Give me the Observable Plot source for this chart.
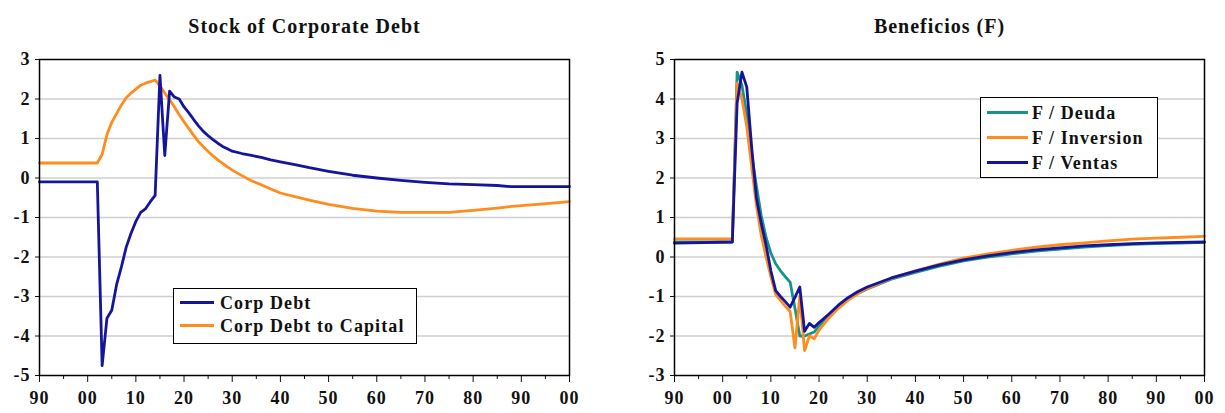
<!DOCTYPE html>
<html>
<head>
<meta charset="utf-8">
<script src="https://cdn.jsdelivr.net/npm/d3@7"></script>
<script src="https://cdn.jsdelivr.net/npm/@observablehq/plot@0.6"></script>
<style>
  body { margin: 0; background: #fff; }
  #wrap { position: relative; width: 1225px; height: 413px; display: flex; }
  .legend { position: absolute; background: #fff; border: 1.5px solid #000; box-sizing: border-box;
            font: bold 18px "Liberation Serif", "Times New Roman", serif; letter-spacing: 1.1px; color: #111; }
  .legend .sw { position: absolute; height: 0; border-top: 3.5px solid; }
  .legend .lbl { position: absolute; white-space: nowrap; }
  svg text { letter-spacing: 1px; }
</style>
</head>
<body>
<div id="wrap"></div>
<script>
// ---------------- Data ----------------
const titles = ["Stock of Corporate Debt", "Beneficios (F)"];

const leftYears = [1990, 2002, 2003, 2004, 2005, 2006, 2007, 2008, 2009, 2010, 2011, 2012, 2013, 2014, 2015, 2016,
  2017, 2018, 2019, 2020, 2021, 2022, 2023, 2024, 2025, 2026, 2027, 2028, 2029, 2030, 2032, 2034, 2036, 2038, 2040,
  2043, 2046, 2050, 2055, 2060, 2065, 2070, 2075, 2080, 2085, 2088, 2094, 2100];
const corpDebt = [-0.1, -0.1, -4.75, -3.55, -3.35, -2.7, -2.25, -1.75, -1.4, -1.1, -0.87, -0.78, -0.6, -0.44, 2.6, 0.57,
  2.2, 2.05, 2.0, 1.8, 1.65, 1.48, 1.32, 1.18, 1.07, 0.97, 0.88, 0.8, 0.74, 0.68, 0.62, 0.57, 0.52, 0.46, 0.41,
  0.34, 0.26, 0.17, 0.07, 0.0, -0.06, -0.11, -0.15, -0.17, -0.19, -0.22, -0.22, -0.22];
const corpDebtToCapital = [0.38, 0.38, 0.6, 1.1, 1.41, 1.63, 1.85, 2.03, 2.15, 2.25, 2.35, 2.4, 2.44, 2.48, 2.33, 2.15,
  1.98, 1.8, 1.6, 1.42, 1.25, 1.08, 0.92, 0.79, 0.67, 0.56, 0.46, 0.37, 0.28, 0.2, 0.06, -0.07, -0.17, -0.28, -0.38,
  -0.47, -0.56, -0.67, -0.77, -0.84, -0.87, -0.87, -0.87, -0.82, -0.76, -0.72, -0.66, -0.6];

const rightYears = [1990, 2002, 2003, 2004, 2005, 2006, 2007, 2008, 2009, 2010, 2011, 2012, 2013, 2014, 2015, 2016,
  2017, 2018, 2019, 2020, 2022, 2024, 2026, 2028, 2030, 2035, 2040, 2045, 2050, 2055, 2060, 2065, 2070, 2075, 2080,
  2085, 2090, 2095, 2100];
const fDeuda = [0.38, 0.38, 4.68, 4.35, 3.6, 2.6, 1.8, 1.05, 0.5, 0.1, -0.17, -0.35, -0.5, -0.64, -1.3, -2.0,
  -2.0, -1.95, -1.9, -1.74, -1.5, -1.27, -1.08, -0.93, -0.81, -0.56, -0.39, -0.23, -0.1, 0.0, 0.08, 0.15, 0.2, 0.25, 0.29,
  0.32, 0.34, 0.35, 0.37];
const fInversion = [0.46, 0.46, 4.4, 4.0, 3.3, 2.3, 1.3, 0.55, 0.0, -0.5, -0.95, -1.1, -1.25, -1.38, -2.3, -1.0,
  -2.37, -2.0, -2.07, -1.85, -1.55, -1.3, -1.1, -0.93, -0.8, -0.54, -0.35, -0.18, -0.03, 0.08, 0.17, 0.25, 0.31, 0.36, 0.41,
  0.45, 0.48, 0.5, 0.52];
const fVentas = [0.35, 0.38, 3.9, 4.68, 4.3, 2.8, 1.5, 0.85, 0.3, -0.35, -0.85, -1.0, -1.13, -1.27, -1.02, -0.76,
  -1.88, -1.68, -1.78, -1.66, -1.45, -1.22, -1.03, -0.88, -0.76, -0.53, -0.36, -0.2, -0.07, 0.03, 0.11, 0.18, 0.23, 0.28, 0.31,
  0.34, 0.36, 0.37, 0.38];

const leftSeries = ["Corp Debt", "Corp Debt to Capital"];
const rightSeries = ["F / Deuda", "F / Inversion", "F / Ventas"];
const leftYTicks = [-5, -4, -3, -2, -1, 0, 1, 2, 3];
const rightYTicks = [-3, -2, -1, 0, 1, 2, 3, 4, 5];
const majorXTicks = [1990, 2000, 2010, 2020, 2030, 2040, 2050, 2060, 2070, 2080, 2090, 2100];
const minorXTicks = [1995, 2005, 2015, 2025, 2035, 2045, 2055, 2065, 2075, 2085, 2095];

const BLUE = "#15159c", ORANGE = "#ff8c1c", TEAL = "#16948a";

// ---------------- Helpers ----------------
const FONT = '"Liberation Serif", "Times New Roman", serif';
function toRows(years, values) { return values.map((v, i) => ({year: years[i], value: v})); }

function panel({width, marginLeft, marginRight, yDomain, yTicks, title, series}) {
  const grid = yTicks.slice(1, -1);
  return Plot.plot({
    width, height: 413,
    marginLeft, marginRight, marginTop: 59, marginBottom: 38,
    style: {fontFamily: FONT, fontSize: "18px", fontWeight: "bold", color: "#111", background: "#fff", overflow: "visible"},
    x: {domain: [1990, 2100], label: null},
    y: {domain: yDomain, label: null},
    marks: [
      Plot.gridY(grid, {stroke: "#cfcfcf", strokeOpacity: 1, strokeWidth: 1.5}),
      Plot.axisY(yTicks, {tickSize: 4, tickPadding: 5, tickFormat: d => String(d), label: null, fontWeight: "bold", fontSize: 18}),
      Plot.axisX(minorXTicks, {tickSize: 4, tickFormat: () => "", label: null}),
      Plot.axisX(majorXTicks, {tickSize: 7, tickPadding: 9, tickFormat: d => String(d % 100).padStart(2, "0"), label: null, fontWeight: "bold", fontSize: 18}),
      ...series.map(s => Plot.line(s.rows, {x: "year", y: "value", stroke: s.color, strokeWidth: 2.8, strokeLinejoin: "round"})),
      Plot.frame({stroke: "#000", strokeWidth: 1.5}),
      Plot.text([title], {text: d => d, frameAnchor: "top", dy: -41, fontSize: 20, fontWeight: "bold"})
    ]
  });
}

function legend(left, top, w, h, entries, rowYs, swW, txtX) {
  const box = document.createElement("div");
  box.className = "legend";
  Object.assign(box.style, {left: left + "px", top: top + "px", width: w + "px", height: h + "px"});
  entries.forEach((e, i) => {
    const sw = document.createElement("div");
    sw.className = "sw";
    Object.assign(sw.style, {left: "6px", width: swW + "px", top: (rowYs[i] - 1.75) + "px", borderTopColor: e.color});
    const t = document.createElement("div");
    t.className = "lbl";
    t.textContent = e.name;
    Object.assign(t.style, {left: txtX + "px", top: (rowYs[i] - 11) + "px", lineHeight: "22px"});
    box.appendChild(sw); box.appendChild(t);
  });
  return box;
}

// ---------------- Build ----------------
const wrap = document.getElementById("wrap");

wrap.appendChild(panel({
  width: 612, marginLeft: 39, marginRight: 43, yDomain: [-5, 3], yTicks: leftYTicks, title: titles[0],
  series: [
    {rows: toRows(leftYears, corpDebtToCapital), color: ORANGE},
    {rows: toRows(leftYears, corpDebt), color: BLUE}
  ]
}));
wrap.appendChild(panel({
  width: 613, marginLeft: 62, marginRight: 21, yDomain: [-3, 5], yTicks: rightYTicks, title: titles[1],
  series: [
    {rows: toRows(rightYears, fDeuda), color: TEAL},
    {rows: toRows(rightYears, fInversion), color: ORANGE},
    {rows: toRows(rightYears, fVentas), color: BLUE}
  ]
}));

wrap.appendChild(legend(173, 288, 244, 56,
  [{name: leftSeries[0], color: BLUE}, {name: leftSeries[1], color: ORANGE}],
  [14, 37], 34, 46));
wrap.appendChild(legend(980, 97, 178, 81,
  [{name: rightSeries[0], color: TEAL}, {name: rightSeries[1], color: ORANGE}, {name: rightSeries[2], color: BLUE}],
  [15, 40, 65], 41, 51));
</script>
</body>
</html>
